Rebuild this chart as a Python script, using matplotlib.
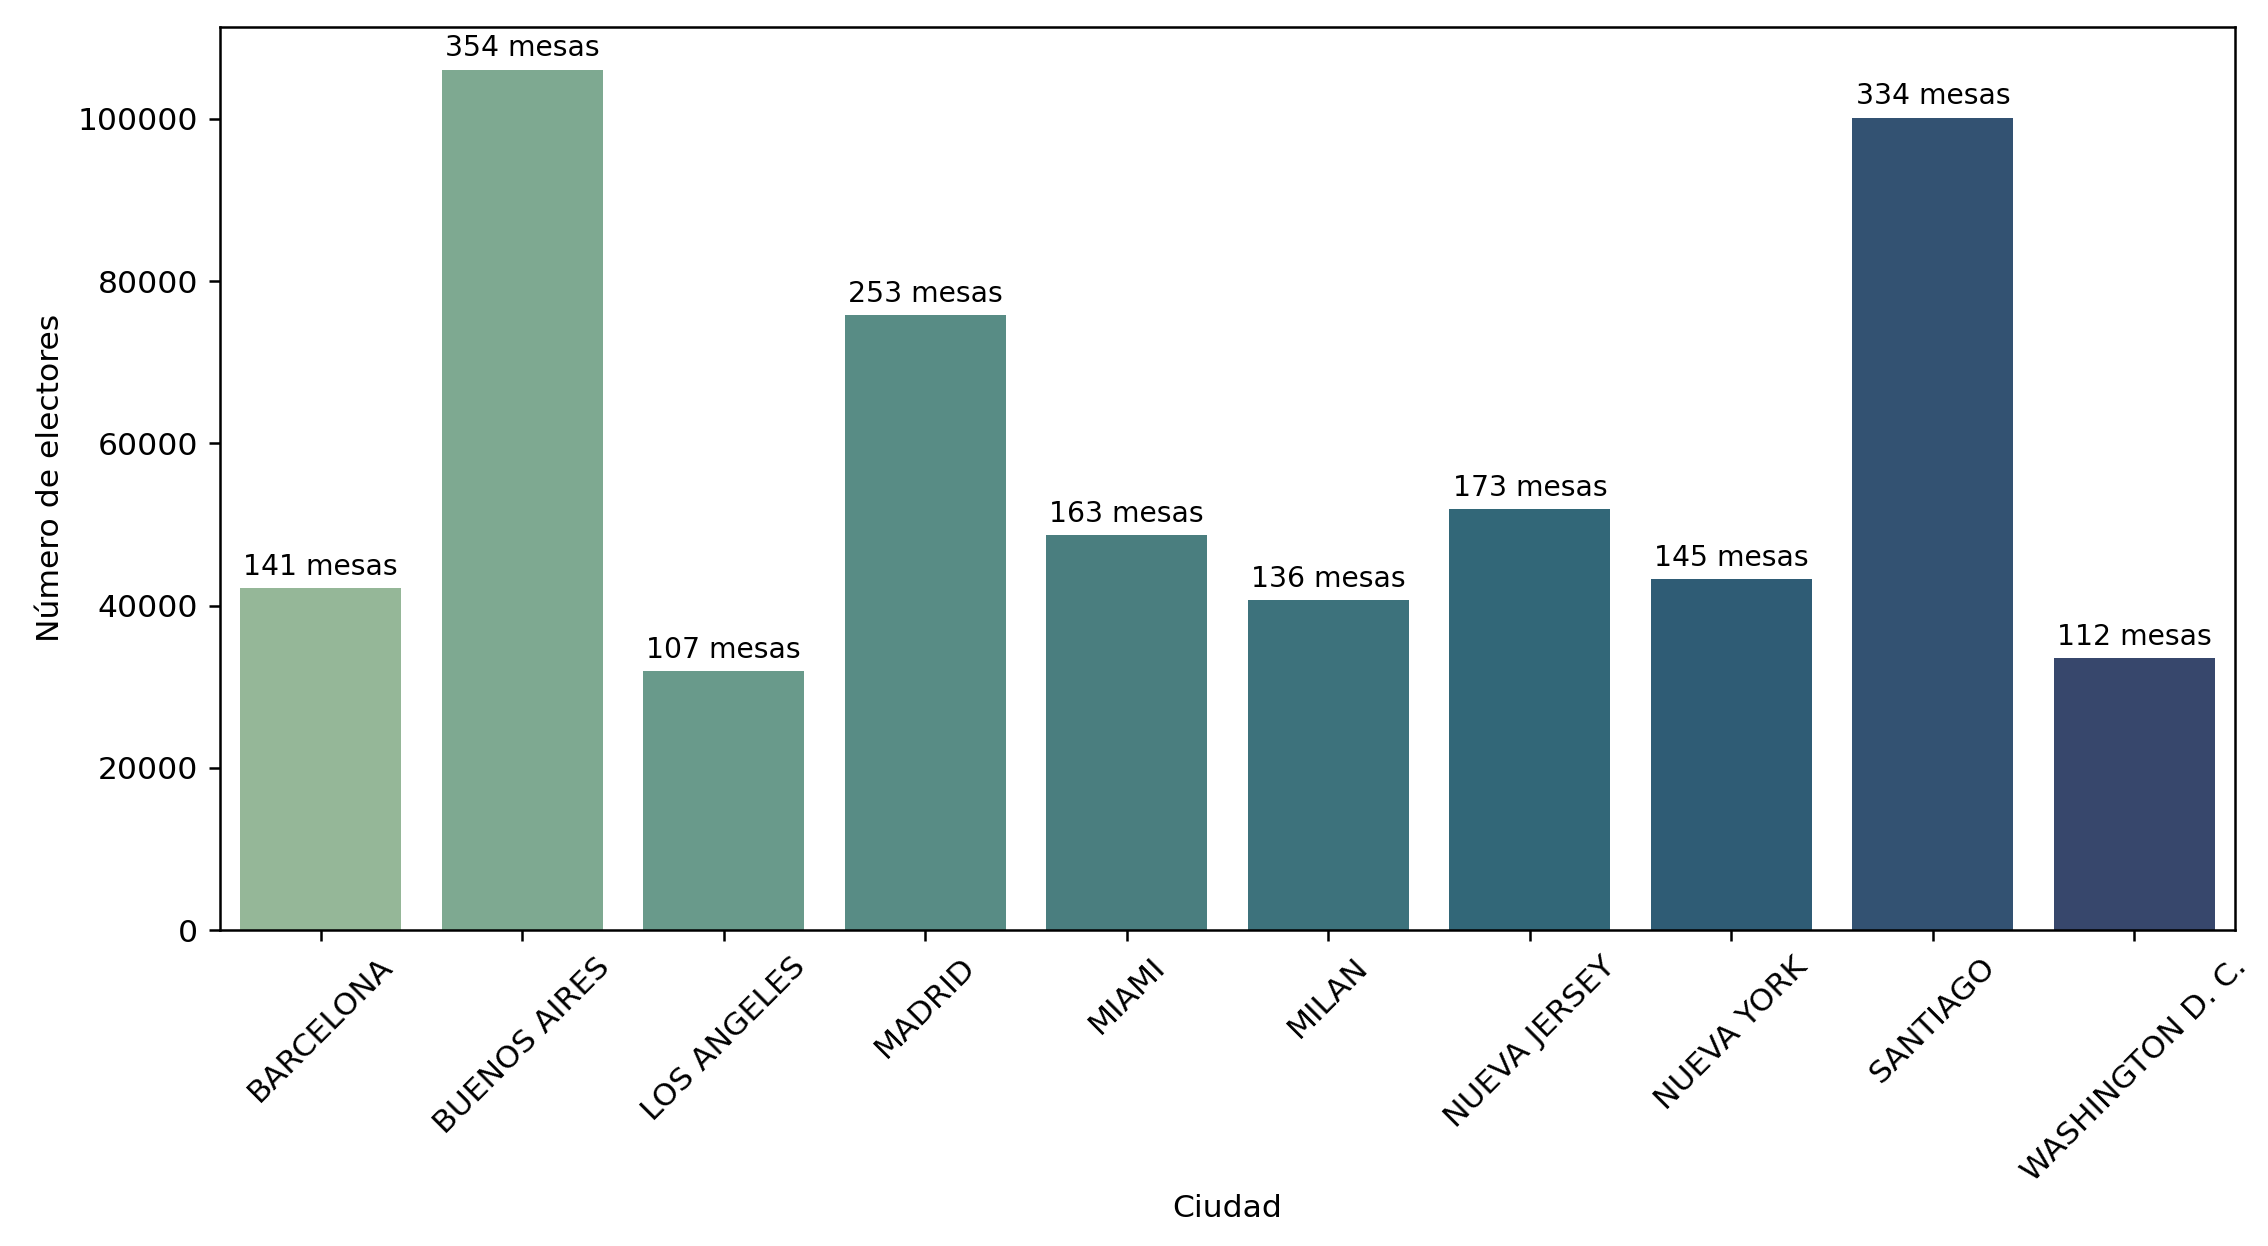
import matplotlib
matplotlib.use("Agg")
import matplotlib.pyplot as plt
import seaborn as sns

ciudades = ["BARCELONA", "BUENOS AIRES", "LOS ANGELES", "MADRID", "MIAMI",
            "MILAN", "NUEVA JERSEY", "NUEVA YORK", "SANTIAGO", "WASHINGTON D. C."]
electores = [42200, 106080, 31930, 75830, 48670, 40660, 51870, 43250, 100160, 33510]
mesas = [141, 354, 107, 253, 163, 136, 173, 145, 334, 112]

DPI = 226
fig = plt.figure(figsize=(2268 / DPI, 1246 / DPI), dpi=DPI)
ax = fig.add_axes([0.0970, 0.2536, 0.9855 - 0.0970, 0.9786 - 0.2536])

pal = sns.color_palette("crest", len(ciudades))
pal = [sns.desaturate(c, 0.65) for c in pal]

x = list(range(len(ciudades)))
bars = ax.bar(x, electores, width=0.8, color=pal)
ax.set_xlim(-0.5, len(ciudades) - 0.5)
ax.set_ylim(0, max(electores) * 1.05)

ax.bar_label(bars, labels=[f"{m} mesas" for m in mesas], padding=2.3, fontsize=9)

ax.set_xticks(x)
ax.set_xticklabels(ciudades, rotation=45, ha="center")
ax.set_xlabel("Ciudad", labelpad=2)
ax.set_ylabel("Número de electores")

fig.savefig("out.png", dpi=DPI)
